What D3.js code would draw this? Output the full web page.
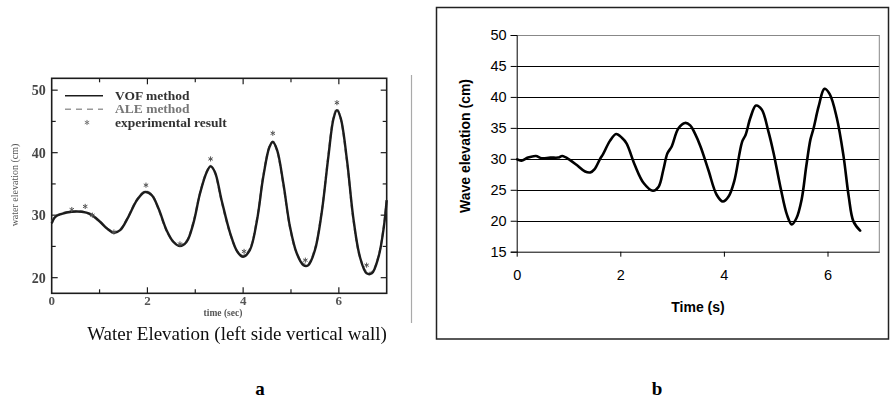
<!DOCTYPE html>
<html>
<head>
<meta charset="utf-8">
<script src="https://cdn.jsdelivr.net/npm/d3@7/dist/d3.min.js"></script>
<style>
  body { margin: 0; background: #fff; }
  svg { display: block; }
</style>
</head>
<body>
<svg id="fig" width="891" height="402"></svg>
<script>
// ---- panel a : scanned figure (VOF / ALE / experiment) ----
const timeA = [0, 0.07, 0.21, 0.42, 0.63, 0.80, 1.01, 1.15, 1.30, 1.43, 1.60, 1.78, 1.95, 2.09, 2.23, 2.40, 2.54, 2.68, 2.82, 2.96, 3.10, 3.24, 3.32, 3.41, 3.55, 3.73, 3.88, 4.00, 4.14, 4.29, 4.42, 4.55, 4.62, 4.71, 4.84, 4.98, 5.12, 5.26, 5.36, 5.50, 5.64, 5.78, 5.89, 5.96, 6.04, 6.17, 6.30, 6.44, 6.58, 6.69, 6.83, 6.94, 7.0];
const vofA = [28.7, 29.7, 30.2, 30.55, 30.55, 30.2, 28.95, 27.9, 27.2, 27.6, 29.7, 32.4, 33.7, 33.2, 31.1, 27.6, 25.75, 25.05, 25.75, 28.7, 33.5, 36.9, 37.8, 36.9, 32.4, 27.1, 24.15, 23.35, 24.4, 29.2, 36.1, 40.9, 41.7, 40.4, 35.1, 28.1, 23.9, 22.0, 22.0, 24.4, 30.3, 39.3, 45.5, 46.8, 45.5, 38.8, 29.7, 23.35, 20.7, 20.7, 23.35, 28.1, 32.4];
const aleA = [28.9, 29.8, 30.3, 30.6, 30.6, 30.1, 28.9, 27.9, 27.3, 27.7, 29.8, 32.5, 33.8, 33.3, 31.0, 27.5, 25.8, 25.2, 25.9, 28.9, 33.6, 37.0, 37.9, 36.8, 32.2, 27.0, 24.2, 23.5, 24.6, 29.4, 36.3, 41.0, 41.8, 40.3, 34.9, 28.0, 23.9, 22.2, 22.2, 24.6, 30.5, 39.5, 45.7, 47.0, 45.4, 38.6, 29.5, 23.3, 20.9, 20.9, 23.5, 28.3, 32.6];
const expTime = [0.42, 0.70, 0.85, 1.30, 1.97, 2.68, 3.32, 4.02, 4.62, 5.30, 5.96, 6.58];
const expVal = [30.9, 31.4, 30.0, 27.3, 34.8, 25.4, 39.0, 24.2, 43.1, 22.8, 48.0, 22.0];
const yTicksA = [20, 30, 40, 50];
const xTicksA = [0, 2, 4, 6];
const legendA = ["VOF method", "ALE method", "experimental result"];

// ---- panel b : wave elevation ----
const timeB = [0.01, 0.09, 0.22, 0.37, 0.48, 0.65, 0.80, 0.88, 1.03, 1.16, 1.32, 1.42, 1.50, 1.61, 1.67, 1.80, 1.92, 2.03, 2.12, 2.28, 2.45, 2.63, 2.74, 2.83, 2.91, 2.99, 3.12, 3.25, 3.35, 3.44, 3.55, 3.70, 3.86, 3.98, 4.09, 4.20, 4.35, 4.42, 4.51, 4.62, 4.73, 4.86, 4.96, 5.09, 5.22, 5.31, 5.40, 5.50, 5.59, 5.67, 5.73, 5.83, 5.94, 6.04, 6.18, 6.31, 6.41, 6.50, 6.63];
const waveB = [29.9, 29.7, 30.2, 30.45, 30.1, 30.2, 30.2, 30.45, 29.8, 29.0, 27.95, 27.8, 28.3, 30.0, 30.8, 32.9, 34.0, 33.4, 32.5, 29.0, 26.1, 24.85, 25.5, 28.2, 30.9, 31.95, 34.9, 35.8, 35.4, 34.1, 31.95, 28.2, 24.2, 23.1, 23.9, 26.4, 32.7, 33.9, 36.6, 38.6, 37.95, 34.4, 30.9, 25.5, 20.9, 19.4, 20.4, 23.4, 28.8, 33.1, 34.9, 38.5, 41.3, 40.5, 36.6, 30.4, 23.9, 19.9, 18.4];
const yTicksB = [15, 20, 25, 30, 35, 40, 45, 50];
const xTicksB = [0, 2, 4, 6];

const svg = d3.select("#fig");
const serif = "'Liberation Serif', 'DejaVu Serif', serif";
const sans = "'Liberation Sans', Arial, sans-serif";

// soft blur to mimic the scan
const defs = svg.append("defs");
defs.append("filter").attr("id", "scan")
  .append("feGaussianBlur").attr("stdDeviation", 0.45);

// ================= panel a =================
const xa = d3.scaleLinear().domain([0, 7]).range([51.7, 386.7]);
const ya = d3.scaleLinear().domain([17.5, 51.9]).range([293.3, 78.3]);
const ga = svg.append("g").attr("filter", "url(#scan)");
const ink = "#1e1e1e";

// frame
ga.append("rect")
  .attr("x", xa(0)).attr("y", ya(51.9))
  .attr("width", xa(7) - xa(0)).attr("height", ya(17.5) - ya(51.9))
  .attr("fill", "none").attr("stroke", ink).attr("stroke-width", 1.6);

// inward ticks
const yMinorA = d3.range(20, 51, 5);
ga.selectAll(".tyl").data(yMinorA).enter().append("line")
  .attr("x1", xa(0)).attr("x2", d => xa(0) + (d % 10 === 0 ? 6 : 4))
  .attr("y1", d => ya(d)).attr("y2", d => ya(d))
  .attr("stroke", ink).attr("stroke-width", 1.2);
ga.selectAll(".tyr").data(yMinorA).enter().append("line")
  .attr("x1", xa(7)).attr("x2", d => xa(7) - (d % 10 === 0 ? 6 : 4))
  .attr("y1", d => ya(d)).attr("y2", d => ya(d))
  .attr("stroke", ink).attr("stroke-width", 1.2);
const xMinorA = d3.range(1, 7, 1);
ga.selectAll(".txb").data(xMinorA).enter().append("line")
  .attr("x1", d => xa(d)).attr("x2", d => xa(d))
  .attr("y1", ya(17.5)).attr("y2", d => ya(17.5) - (d % 2 === 0 ? 6 : 4))
  .attr("stroke", ink).attr("stroke-width", 1.2);
ga.selectAll(".txt").data(xMinorA).enter().append("line")
  .attr("x1", d => xa(d)).attr("x2", d => xa(d))
  .attr("y1", ya(51.9)).attr("y2", d => ya(51.9) + (d % 2 === 0 ? 6 : 4))
  .attr("stroke", ink).attr("stroke-width", 1.2);

// tick labels
ga.selectAll(".lya").data(yTicksA).enter().append("text")
  .attr("x", xa(0) - 6).attr("y", d => ya(d) + 5)
  .attr("text-anchor", "end")
  .style("font-family", serif).style("font-size", "14px").style("font-weight", "bold")
  .attr("fill", "#444").text(d => d);
ga.selectAll(".lxa").data(xTicksA).enter().append("text")
  .attr("x", d => xa(d)).attr("y", 305)
  .attr("text-anchor", "middle")
  .style("font-family", serif).style("font-size", "13px").style("font-weight", "bold")
  .attr("fill", "#555").text(d => d);

ga.append("text")
  .attr("transform", "translate(18,185) rotate(-90)")
  .attr("text-anchor", "middle")
  .style("font-family", serif).style("font-size", "10px")
  .attr("fill", "#555").text("water elevation (cm)");
ga.append("text")
  .attr("x", 223).attr("y", 316).attr("text-anchor", "middle")
  .style("font-family", serif).style("font-size", "9.5px").style("font-weight", "bold")
  .attr("fill", "#555").text("time (sec)");

// curves
const lineA = d3.line()
  .x((d, i) => xa(timeA[i]))
  .y(d => ya(d))
  .curve(d3.curveCatmullRom);
ga.append("path").datum(aleA).attr("d", lineA)
  .attr("fill", "none").attr("stroke", "#888").attr("stroke-width", 2)
  .attr("stroke-dasharray", "5,3");
ga.append("path").datum(vofA).attr("d", lineA)
  .attr("fill", "none").attr("stroke", ink).attr("stroke-width", 2.4);

// experimental points
const star = d3.symbol().type(d3.symbolAsterisk || d3.symbolCross).size(18);
ga.selectAll(".exp").data(expVal).enter().append("path")
  .attr("d", star)
  .attr("transform", (d, i) => `translate(${xa(expTime[i])},${ya(d)})`)
  .attr("fill", "none").attr("stroke", "#555").attr("stroke-width", 1);

// legend
const lg = ga.append("g");
lg.append("line").attr("x1", 65).attr("x2", 103).attr("y1", 95.7).attr("y2", 95.7)
  .attr("stroke", ink).attr("stroke-width", 1.6);
lg.append("line").attr("x1", 65).attr("x2", 103).attr("y1", 109.3).attr("y2", 109.3)
  .attr("stroke", "#999").attr("stroke-width", 1.4).attr("stroke-dasharray", "6,5");
lg.append("path").attr("d", star).attr("transform", "translate(87,122.5)")
  .attr("fill", "none").attr("stroke", "#777").attr("stroke-width", 1);
lg.selectAll("text").data(legendA).enter().append("text")
  .attr("x", 115).attr("y", (d, i) => 100 + i * 13.4)
  .style("font-family", serif).style("font-size", "13.5px").style("font-weight", "bold")
  .attr("fill", (d, i) => i === 1 ? "#777" : "#333").text(d => d);

ga.append("text")
  .attr("x", 237).attr("y", 340).attr("text-anchor", "middle")
  .style("font-family", serif).style("font-size", "19px")
  .attr("fill", "#111").text("Water Elevation (left side vertical wall)");

// scan edge line
svg.append("line").attr("x1", 411.5).attr("x2", 411.5).attr("y1", 75).attr("y2", 323)
  .attr("stroke", "#aaa").attr("stroke-width", 1.2);

// ================= panel b =================
const xb = d3.scaleLinear().domain([0, 7]).range([516.7, 879.3]);
const yb = d3.scaleLinear().domain([15, 50]).range([251.7, 35]);
const gb = svg.append("g");

// outer chart box
gb.append("rect").attr("x", 436.5).attr("y", 7.5).attr("width", 452).attr("height", 331.5)
  .attr("fill", "none").attr("stroke", "#222").attr("stroke-width", 1.5);

// gridlines
gb.selectAll(".grid").data(yTicksB.filter(d => d > 15)).enter().append("line")
  .attr("x1", xb(0)).attr("x2", xb(7))
  .attr("y1", d => Math.round(yb(d)) + 0.5).attr("y2", d => Math.round(yb(d)) + 0.5)
  .attr("stroke", d => d === 50 ? "#888" : "#000").attr("stroke-width", 1);
// right plot-area border
gb.append("line").attr("x1", xb(7)).attr("x2", xb(7)).attr("y1", yb(50)).attr("y2", yb(15))
  .attr("stroke", "#888").attr("stroke-width", 1);

// axes
const yAxisB = d3.axisLeft(yb).tickValues(yTicksB).tickSize(6).tickPadding(4);
gb.append("g").attr("transform", `translate(${xb(0)},0)`).call(yAxisB)
  .call(g => g.selectAll("line, path").attr("stroke", "#000"))
  .call(g => g.selectAll("text").style("font-family", sans).style("font-size", "14.5px").attr("fill", "#000"));
const xAxisB = d3.axisBottom(xb).tickValues(xTicksB).tickFormat(d3.format("d"))
  .tickSize(5).tickPadding(13).tickSizeOuter(0);
gb.append("g").attr("transform", `translate(0,${yb(15)})`).call(xAxisB)
  .call(g => g.selectAll("line, path").attr("stroke", "#000"))
  .call(g => g.selectAll("text").style("font-family", sans).style("font-size", "14.5px").attr("fill", "#000"));

gb.append("text")
  .attr("transform", "translate(470,146) rotate(-90)")
  .attr("text-anchor", "middle")
  .style("font-family", sans).style("font-size", "14px").style("font-weight", "bold")
  .text("Wave elevation (cm)");
gb.append("text")
  .attr("x", 698).attr("y", 312).attr("text-anchor", "middle")
  .style("font-family", sans).style("font-size", "14px").style("font-weight", "bold")
  .text("Time (s)");

const lineB = d3.line()
  .x((d, i) => xb(timeB[i]))
  .y(d => yb(d))
  .curve(d3.curveCatmullRom);
gb.append("path").datum(waveB).attr("d", lineB)
  .attr("fill", "none").attr("stroke", "#000").attr("stroke-width", 2.6)
  .attr("stroke-linejoin", "round").attr("stroke-linecap", "round");

// panel letters
svg.selectAll(".letter").data(["a", "b"]).enter().append("text")
  .attr("x", (d, i) => i === 0 ? 260 : 657).attr("y", 395)
  .attr("text-anchor", "middle")
  .style("font-family", serif).style("font-size", "19px").style("font-weight", "bold")
  .text(d => d);
</script>
</body>
</html>
